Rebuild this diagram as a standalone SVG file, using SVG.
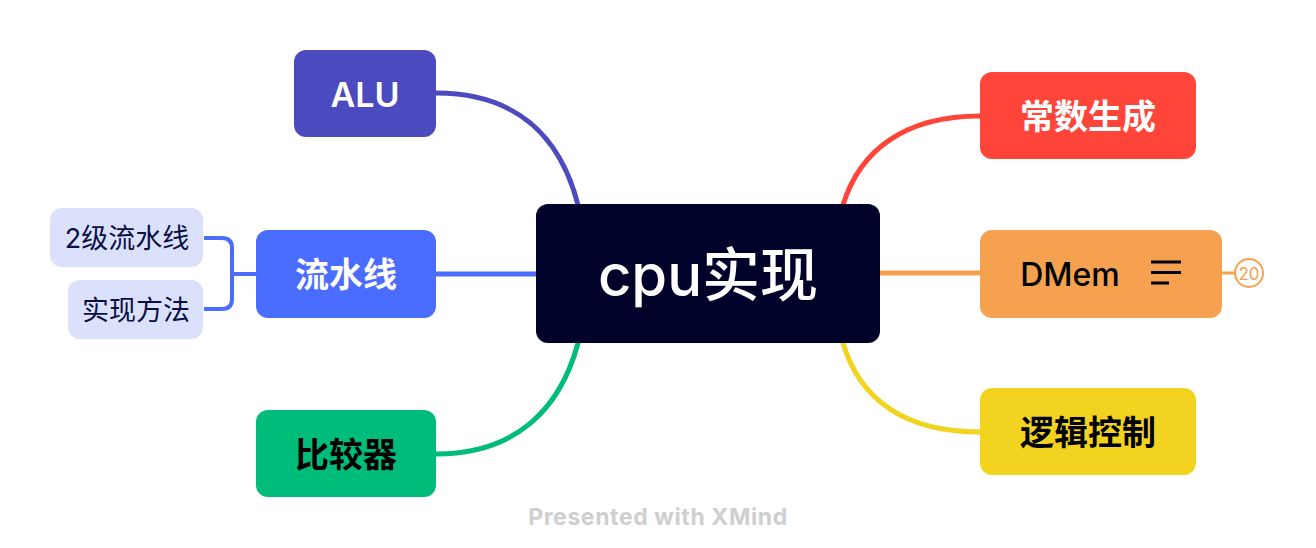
<svg xmlns="http://www.w3.org/2000/svg" width="1316" height="548" viewBox="0 0 1316 548">
<style>
.t{font-family:Inter,"Noto Sans CJK SC",sans-serif;text-anchor:middle;dominant-baseline:central}
.lbl{font-size:34px;font-weight:600}
.sub{font-size:27px;font-weight:400;fill:#0a1045}
.c{fill:none;stroke-width:5;stroke-linecap:round}
</style>
<rect width="1316" height="548" fill="#ffffff"/>
<g id="connectors">
<path class="c" stroke="#4B4BBF" d="M436 93 C515 93 560 135 578 205"/>
<path class="c" stroke="#4A6CFF" d="M436 274 L536 274"/>
<path class="c" stroke="#00BC7B" d="M436 454 C515 454 560 410 578 343"/>
<path class="c" stroke="#FF453A" d="M980 116 C905 116 860 150 843 205"/>
<path class="c" stroke="#F5A14F" d="M880 273 L980 273"/>
<path class="c" stroke="#F2D320" d="M980 432 C905 432 860 400 843 343"/>
<path fill="none" stroke="#4A6CFF" stroke-width="4" d="M256 274 L232 274 M204 238 L222 238 Q232 238 232 248 L232 299 Q232 309 222 309 L204 309"/>
<path fill="none" stroke="#F5A14F" stroke-width="3" d="M1222 273 L1235 273"/>
</g>
<g id="root">
<rect x="536" y="204" width="344" height="139" rx="12" fill="#000229"/>
<text class="t" x="708" y="275" font-size="58" font-weight="500" fill="#ffffff">cpu实现</text>
</g>
<g id="alu">
<rect x="294" y="50" width="142" height="87" rx="12" fill="#4B4BBF"/>
<text class="t lbl" x="365" y="94" fill="#ffffff">ALU</text>
</g>
<g id="pipeline">
<rect x="256" y="230" width="180" height="88" rx="12" fill="#4A6CFF"/>
<text class="t lbl" x="346" y="274" fill="#ffffff">流水线</text>
</g>
<g id="sub1">
<rect x="50" y="208" width="153" height="59" rx="12" fill="#DCE1FB"/>
<text class="t sub" x="127" y="238">2级流水线</text>
</g>
<g id="sub2">
<rect x="68" y="280" width="135" height="59" rx="12" fill="#DCE1FB"/>
<text class="t sub" x="136" y="310">实现方法</text>
</g>
<g id="comparator">
<rect x="256" y="410" width="180" height="87" rx="12" fill="#00BC7B"/>
<text class="t lbl" x="346" y="454" fill="#000000">比较器</text>
</g>
<g id="const">
<rect x="980" y="72" width="216" height="87" rx="12" fill="#FF453A"/>
<text class="t lbl" x="1088" y="116" fill="#ffffff">常数生成</text>
</g>
<g id="dmem">
<rect x="980" y="230" width="242" height="88" rx="12" fill="#F5A14F"/>
<text class="t" x="1070" y="274" font-size="32" font-weight="500" fill="#000000">DMem</text>
<path fill="none" stroke="#000000" stroke-width="3" d="M1151 262 L1181 262 M1151 272.5 L1181 272.5 M1151 283 L1169 283"/>
<circle cx="1249" cy="273" r="14" fill="#ffffff" stroke="#F5A14F" stroke-width="2"/>
<text class="t" x="1249" y="274" font-size="17" fill="#F5A14F">20</text>
</g>
<g id="logic">
<rect x="980" y="388" width="216" height="87" rx="12" fill="#F2D320"/>
<text class="t lbl" x="1088" y="432" fill="#000000">逻辑控制</text>
</g>
<text class="t" x="658" y="517" font-size="23" font-weight="700" letter-spacing="0.6" fill="#cfcfcf">Presented with XMind</text>
</svg>
